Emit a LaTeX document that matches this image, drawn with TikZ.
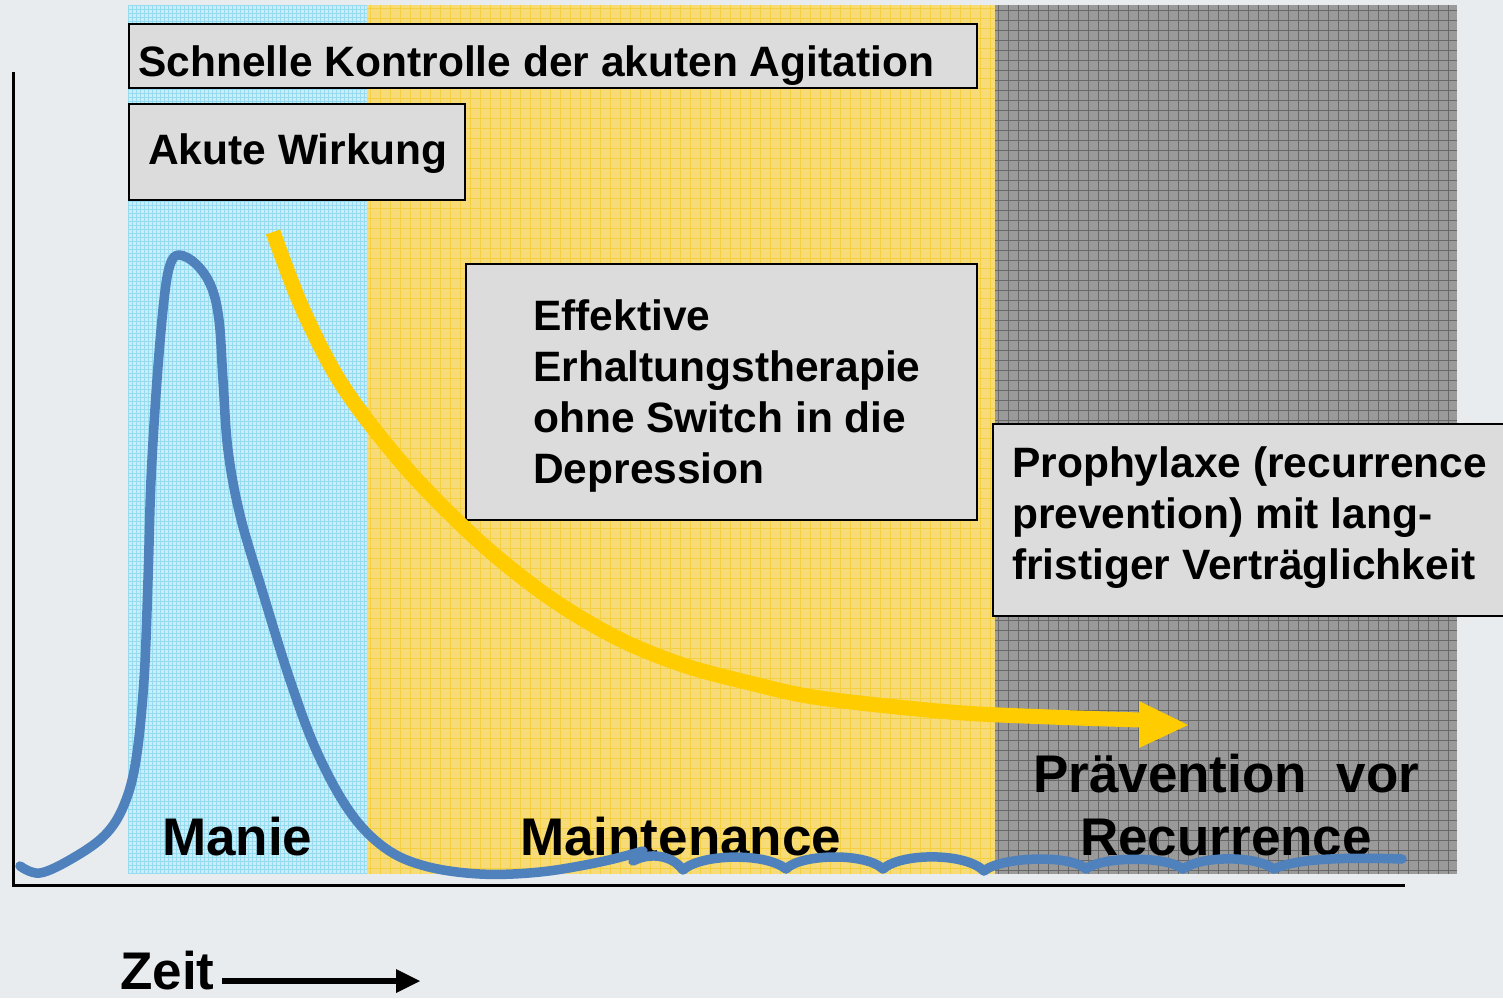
\documentclass[tikz,border=0pt]{standalone}
\usepackage{fontspec}
\setmainfont{Liberation Sans}
\definecolor{bg}{HTML}{E8ECEF}
\definecolor{zblue}{HTML}{CBEDF7}
\definecolor{zbluel}{HTML}{97DBF0}
\definecolor{zyel}{HTML}{F6DB78}
\definecolor{zyell}{HTML}{F4D040}
\definecolor{zgray}{HTML}{9A9A9A}
\definecolor{zgrayl}{HTML}{686868}
\definecolor{boxfill}{HTML}{DCDCDC}
\definecolor{curveblue}{HTML}{4F81BD}
\definecolor{arrowyel}{HTML}{FFCC00}
\newcommand\fsA{\fontsize{42.5}{51.5}\selectfont\bfseries}
\newcommand\fsB{\fontsize{53}{60}\selectfont\bfseries}
\tikzset{
  infobox/.style={draw=black, line width=2pt, fill=boxfill, inner sep=0pt, anchor=north west},
  txt/.style={inner sep=0pt, anchor=base west, text=black},
  axis/.style={line width=3pt, black},
  bluecurve/.style={curveblue, line width=9.5pt, line cap=round, line join=round},
  yelcurve/.style={arrowyel, line width=15pt},
}
\begin{document}
\begin{tikzpicture}[x=1pt, y=-1pt]
\useasboundingbox (0,0) rectangle (1503,998);
\fill[bg] (0,0) rectangle (1503,998);
% zones
\fill[zblue] (128,5) rectangle (367,874);
\begin{scope}
\clip (128,5) rectangle (367,874);
\foreach \x in {128,132,...,367} \draw[zbluel, line width=0.6pt] (\x,5) -- (\x,874);
\foreach \y in {5,9,...,874} \draw[zbluel, line width=0.6pt] (128,\y) -- (367,\y);
\end{scope}
\fill[zyel] (367,5) rectangle (995,874);
\begin{scope}
\clip (367,5) rectangle (995,874);
\foreach \x in {370,380,...,995} \draw[zyell, line width=0.8pt] (\x,5) -- (\x,874);
\foreach \y in {8,18,...,874} \draw[zyell, line width=0.8pt] (367,\y) -- (995,\y);
\end{scope}
\fill[zgray] (995,5) rectangle (1457,874);
\begin{scope}
\clip (995,5) rectangle (1457,874);
\foreach \x in {998,1008,...,1457} \draw[zgrayl, line width=0.9pt] (\x,5) -- (\x,874);
\foreach \y in {10,20,...,874} \draw[zgrayl, line width=0.9pt] (995,\y) -- (1457,\y);
\end{scope}
% axes
\coordinate (yTop) at (13,72);
\coordinate (origin) at (13,885);
\coordinate (xEnd) at (1405,885);
\draw[axis] (yTop) -- (origin) -- (xEnd);
% boxes
\node[infobox, minimum width=848pt, minimum height=64pt] (schnellBox) at (128,23) {};
\node[txt] (schnellTxt) at (138,76) {\fsA Schnelle Kontrolle der akuten Agitation};
\node[infobox, minimum width=336pt, minimum height=96pt] (akutBox) at (128,103) {};
\node[txt] (akutTxt) at (148,164) {\fsA Akute Wirkung};
\node[infobox, minimum width=511pt, minimum height=256pt] (effBox) at (465,263) {};
\node[txt] (eff1) at (533,330) {\fsA Effektive};
\node[txt] (eff2) at (533,381) {\fsA Erhaltungstherapie};
\node[txt] (eff3) at (533,432) {\fsA ohne Switch in die};
\node[txt] (eff4) at (533,483) {\fsA Depression};
\node[infobox, minimum width=515pt, minimum height=192pt] (prophBox) at (992,423) {};
\node[txt] (pro1) at (1012,477) {\fsA Prophylaxe (recurrence};
\node[txt] (pro2) at (1012,528) {\fsA prevention) mit lang-};
\node[txt] (pro3) at (1012,579) {\fsA fristiger Verträglichkeit};
% phase labels
\node[txt] (manie) at (162,855) {\fsB Manie};
\node[txt] (maint) at (520,855) {\fsB Maintenance};
\node[txt] (praev) at (1033,792) {\fsB Prävention\ \ vor};
\node[txt] (recur) at (1080,855) {\fsB Recurrence};
% time label and arrow
\node[txt] (zeit) at (120,989) {\fsB Zeit};
\coordinate (zeitArrowStart) at (222,981);
\coordinate (zeitArrowEnd) at (397,981);
\draw[line width=6pt, black] (zeitArrowStart) -- (zeitArrowEnd);
\fill[black] (396,969) -- (420,981) -- (396,993) -- cycle;
% yellow arrow
\draw[yelcurve] plot[smooth, tension=0.55] coordinates {(273,232) (300,303) (333,370) (367,420) (417,480) (483,545) (550,598) (617,638) (683,665) (750,683) (820,698) (950,712) (1050,717) (1141,720)};
\fill[arrowyel] (1139,701) -- (1188,725) -- (1139,748) -- cycle;
% blue curve
\draw[bluecurve] plot[smooth, tension=0.6] coordinates {(20,866) (40,873) (73,858) (105,835) (124,805) (136,760) (144,680) (148,580) (151,480) (157,380) (164,300) (170,265) (179,255) (196,264) (211,286) (219,320) (223,380) (228,450) (240,515) (262,590) (290,680) (317,752) (350,812) (385,848) (425,866) (480,874) (540,872) (600,862) (643,851)};
\draw[bluecurve] (633,861)
  .. controls (650,852) and (672,855) .. (683,870)
  .. controls (700,854) and (765,852) .. (786,869)
  .. controls (800,854) and (865,852) .. (883,869)
  .. controls (900,853) and (965,852) .. (984,871)
  .. controls (1000,857) and (1070,854) .. (1086,869)
  .. controls (1100,857) and (1165,855) .. (1183,869)
  .. controls (1200,856) and (1255,855) .. (1274,869)
  .. controls (1300,856) and (1370,858) .. (1402,859);
\end{tikzpicture}
\end{document}
